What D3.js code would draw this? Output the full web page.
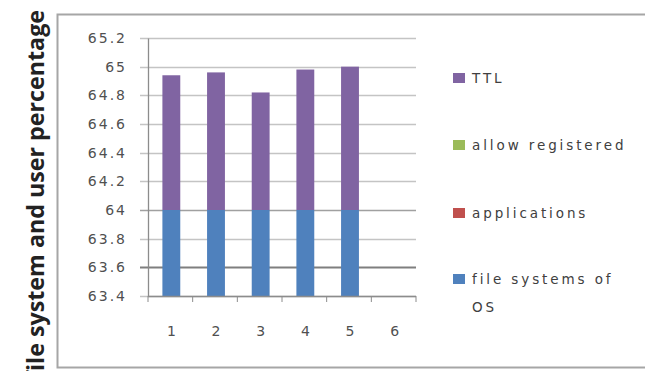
<!DOCTYPE html>
<html>
<head>
<meta charset="utf-8">
<script src="https://cdn.jsdelivr.net/npm/d3@7"></script>
<style>
body { margin: 0; background: #fff; }
svg { display: block; }
.tick text { font-family: "DejaVu Sans", sans-serif; font-size: 14px; fill: #505050; letter-spacing: 2px; }
.legend text { font-family: "DejaVu Sans", sans-serif; font-size: 13.5px; fill: #404040; letter-spacing: 2.9px; }
</style>
</head>
<body>
<script>
//chart data
var categories = ["1", "2", "3", "4", "5", "6"];
var seriesNames = ["file systems of OS", "applications", "allow registered", "TTL"];
var seriesColors = ["#4f81bd", "#c0504d", "#9bbb59", "#8064a2"];
var fileSystems = [64, 64, 64, 64, 64, null];
var applications = [0, 0, 0, 0, 0, null];
var allowRegistered = [0, 0, 0, 0, 0, null];
var ttl = [0.94, 0.96, 0.82, 0.98, 1.0, null];
var yTicks = [63.4, 63.6, 63.8, 64, 64.2, 64.4, 64.6, 64.8, 65, 65.2];
var yTitle = "file system and user percentage";

var width = 645, height = 371;

var svg = d3.select("body").append("svg")
    .attr("width", width)
    .attr("height", height);

//outer chart frame
svg.append("rect")
    .attr("x", 57.5).attr("y", 14.5)
    .attr("width", 600).attr("height", 353)
    .attr("fill", "#fff")
    .attr("stroke", "#a6a6a6")
    .attr("stroke-width", 2);

//axis title (runs off the bottom edge like the original)
svg.append("text")
    .attr("transform", "translate(44,10) rotate(-90)")
    .attr("text-anchor", "end")
    .attr("textLength", 370)
    .attr("lengthAdjust", "spacingAndGlyphs")
    .style("font-family", "'Open Sans', sans-serif")
    .style("font-weight", "bold")
    .style("font-size", "23px")
    .style("fill", "#222")
    .text(yTitle);

var plot = {left: 148, right: 416, top: 38, bottom: 296};

var x = d3.scaleBand()
    .domain(categories)
    .range([plot.left, plot.right])
    .paddingInner(0.6)
    .paddingOuter(0.3);

var xEdge = d3.scaleLinear()
    .domain([0, categories.length])
    .range([plot.left, plot.right]);

var y = d3.scaleLinear()
    .domain([63.4, 65.2])
    .range([plot.bottom, plot.top]);

//gridlines
svg.append("g").selectAll("line")
    .data(yTicks)
    .enter().append("line")
    .attr("x1", plot.left - 8).attr("x2", plot.right)
    .attr("y1", function(d){ return Math.round(y(d)) + 0.5; })
    .attr("y2", function(d){ return Math.round(y(d)) + 0.5; })
    .attr("stroke", function(d){ return Math.abs(d - 63.6) < 1e-6 ? "#7f7f7f" : (d == 64 ? "#a0a0a0" : "#c4c4c4"); })
    .attr("stroke-width", function(d){ return Math.abs(d - 63.6) < 1e-6 ? 2 : 1.3; });

//y axis
var yAxis = svg.append("g")
    .attr("transform", "translate(" + plot.left + ",0)")
    .call(d3.axisLeft(y).tickValues(yTicks).tickSize(0).tickPadding(21)
        .tickFormat(function(d){ return d3.format("")(+d.toFixed(1)); }));
yAxis.select(".domain").attr("stroke", "#8c8c8c").attr("stroke-width", 1.3);

//stack series
var rows = categories.map(function(c, i){
    return {cat: c, fs: fileSystems[i], app: applications[i], reg: allowRegistered[i], ttl: ttl[i]};
}).filter(function(d){ return d.fs != null; });
var stack = d3.stack().keys(["fs", "app", "reg", "ttl"]);
var layers = stack(rows);

svg.append("g").selectAll("g")
    .data(layers)
    .enter().append("g")
    .attr("fill", function(d, i){ return seriesColors[i]; })
    .selectAll("rect")
    .data(function(d){ return d; })
    .enter().append("rect")
    .attr("x", function(d){ return x(d.data.cat) + 1; })
    .attr("width", x.bandwidth())
    .attr("y", function(d){ return y(d[1]); })
    .attr("height", function(d){ return Math.max(0, y(Math.max(d[0], 63.4)) - y(d[1])); });

//x axis line and ticks
var xg = svg.append("g");
xg.append("line")
    .attr("x1", plot.left).attr("x2", plot.right)
    .attr("y1", plot.bottom + 0.5).attr("y2", plot.bottom + 0.5)
    .attr("stroke", "#8c8c8c").attr("stroke-width", 1.3);
xg.selectAll(".xt")
    .data(d3.range(categories.length + 1))
    .enter().append("line")
    .attr("x1", function(d){ return xEdge(d); }).attr("x2", function(d){ return xEdge(d); })
    .attr("y1", plot.bottom).attr("y2", plot.bottom + 6)
    .attr("stroke", "#8c8c8c");

svg.append("g")
    .attr("transform", "translate(0," + plot.bottom + ")")
    .call(d3.axisBottom(x).tickSize(0).tickPadding(30))
    .call(function(g){ g.select(".domain").remove(); })
    .selectAll("text")
    .attr("dx", 2);

//legend
var legendY = [279, 213, 145, 78];
var legend = svg.append("g").attr("class", "legend");
seriesNames.forEach(function(name, i){
    var g = legend.append("g").attr("transform", "translate(453," + legendY[i] + ")");
    g.append("rect")
        .attr("x", 0).attr("y", -5)
        .attr("width", 12).attr("height", 10)
        .attr("fill", seriesColors[i]);
    var t = g.append("text").attr("x", 19).attr("y", 5);
    if (name == "file systems of OS"){
        t.append("tspan").attr("x", 19).text("file systems of");
        t.append("tspan").attr("x", 19).attr("dy", 28).text("OS");
    } else {
        t.text(name);
    }
});
</script>
</body>
</html>
